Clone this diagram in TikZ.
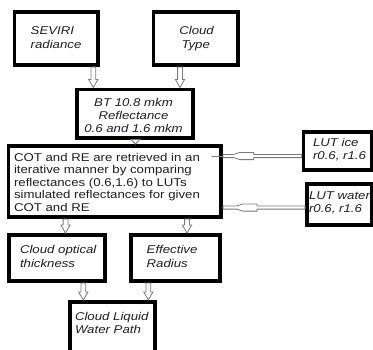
\documentclass[tikz,border=0pt]{standalone}
\usepackage{fontspec}
\setmainfont[FakeStretch=1.17]{Liberation Sans}
\usetikzlibrary{calc}

\definecolor{inkc}{HTML}{1E1E24}
\definecolor{arrowc}{HTML}{7A7A7A}

\tikzset{
  box/.style={draw=black, line width=3.6pt, anchor=north west, inner sep=0pt},
  lbl/.style={inner sep=0pt, outer sep=0pt, text=inkc},
  blockarrow/.style={draw=arrowc, fill=white, line width=0.8pt, line join=miter},
}

% vertical block arrow: shaft then open triangular head, from #2 down to #3
\newcommand\blockdown[3][8pt]{%
  \path[blockarrow] let \p1=(#2), \p2=(#3) in
    (\x1-2.4pt,\y1) -- (\x1-2.4pt,\y2+#1) -- (\x1-4.6pt,\y2+#1) -- (\x2,\y2)
    -- (\x1+4.6pt,\y2+#1) -- (\x1+2.4pt,\y2+#1) -- (\x1+2.4pt,\y1) -- cycle;}

% horizontal block arrow running leftwards, from #1 to #2
\newcommand\blockleft[2]{%
  \path[blockarrow] let \p1=(#1), \p2=(#2) in
    (\x1,\y1+1.6pt) -- (\x1-48pt,\y1+1.6pt) -- (\x1-48pt,\y1+3.6pt)
    -- (\x1-62pt,\y1+3.6pt) -- (\x1-68pt,\y1+1.6pt) -- (\x2,\y2+1.6pt)
    -- (\x2,\y2-1.6pt) -- (\x1-68pt,\y1-1.6pt) -- (\x1-62pt,\y1-3.6pt)
    -- (\x1-48pt,\y1-3.6pt) -- (\x1-48pt,\y1-1.6pt) -- (\x1,\y1-1.6pt) -- cycle;}

\newcommand\boxtext[2]{\parbox[t]{#1}{\raggedright #2}}

\begin{document}
\begin{tikzpicture}[x=1pt,y=-1pt]
\useasboundingbox (0,0) rectangle (373,349);
\clip (0,0) rectangle (373,349);
\fill[white] (0,0) rectangle (373,349);

% boxes (placed by their outer corner)
\node[box, minimum width=83.7pt, minimum height=53.4pt] (sev) at (12.7,10) {};
\node[box, minimum width=84.7pt, minimum height=53.4pt] (typ) at (151.7,10) {};
\node[box, minimum width=116.4pt, minimum height=48.4pt] (bt) at (75,87.5) {};
\node[box, minimum width=212.7pt, minimum height=71.4pt] (big) at (6.7,144) {};
\node[box, minimum width=68.2pt, minimum height=38.4pt] (lutice) at (301.7,130) {};
\node[box, minimum width=64.9pt, minimum height=41.4pt] (lutwat) at (305,182) {};
\node[box, minimum width=96.4pt, minimum height=46.4pt] (cot) at (7,233) {};
\node[box, minimum width=89.4pt, minimum height=46.4pt] (er) at (129,233) {};
\node[box, minimum width=84.8pt, minimum height=56.4pt] (clwp) at (68.3,300) {};

% texts
\fontsize{11.3}{14}\selectfont
\node[lbl, anchor=base west] (sevtxt) at (30.7,34.3)
  {\boxtext{62pt}{\itshape SEVIRI\\radiance}};
\node[lbl, anchor=base west] (typtxt1) at (179.3,34.3) {\itshape Cloud};
\node[lbl, anchor=base west] (typtxt2) at (181.5,48.3) {\itshape Type};
\node[lbl, anchor=base] (bttxt) at (133.5,106)
  {\parbox[t]{116pt}{\centering\itshape\fontsize{11.3}{13.2}\selectfont
   BT 10.8 mkm\\Reflectance\\0.6 and 1.6 mkm}};
\node[lbl, anchor=base west] (bigtxt) at (14,161)
  {\boxtext{205pt}{\fontsize{11.3}{12.5}\selectfont
   COT and RE are retrieved in an\\iterative manner by comparing\\
   reflectances (0.6,1.6) to LUTs\\simulated reflectances for given\\COT and RE}};
\node[lbl, anchor=base west] (icetxt) at (313,146)
  {\boxtext{60pt}{\itshape\fontsize{11.3}{13.3}\selectfont LUT ice\\r0.6, r1.6}};
\node[lbl, anchor=base west] (wattxt) at (309,199.3)
  {\boxtext{64pt}{\itshape\fontsize{11.3}{13.4}\selectfont LUT water\\r0.6, r1.6}};
\node[lbl, anchor=base west] (cottxt) at (20,253.3)
  {\boxtext{90pt}{\itshape Cloud optical\\thickness}};
\node[lbl, anchor=base west] (ertxt) at (146.7,253.3)
  {\boxtext{70pt}{\itshape Effective\\Radius}};
\node[lbl, anchor=base west] (clwptxt) at (75,320)
  {\boxtext{80pt}{\itshape\fontsize{11.3}{13.5}\selectfont Cloud Liquid\\Water Path}};

% connector rows
\coordinate (yice) at (0,156);
\coordinate (ywat) at (0,207.5);

% vertical connectors
\blockdown{93.3,0 |- sev.south}{93.3,0 |- bt.north}
\blockdown{180,0 |- typ.south}{180,0 |- bt.north}
\blockdown[4.5pt]{135.5,0 |- bt.south}{135.5,0 |- big.north}
\blockdown{65.5,0 |- big.south}{65.5,0 |- cot.north}
\blockdown{187,0 |- big.south}{187,0 |- er.north}
\blockdown{83.3,0 |- cot.south}{83.3,0 |- clwp.north}
\blockdown{148.3,0 |- er.south}{148.3,0 |- clwp.north}

% horizontal connectors from the look-up tables
\blockleft{lutice.west |- yice}{big.east |- yice}
\draw[arrowc, line width=0.8pt] (big.east |- yice) -- ++(-11,0);
\blockleft{lutwat.west |- ywat}{big.east |- ywat}
\end{tikzpicture}
\end{document}
